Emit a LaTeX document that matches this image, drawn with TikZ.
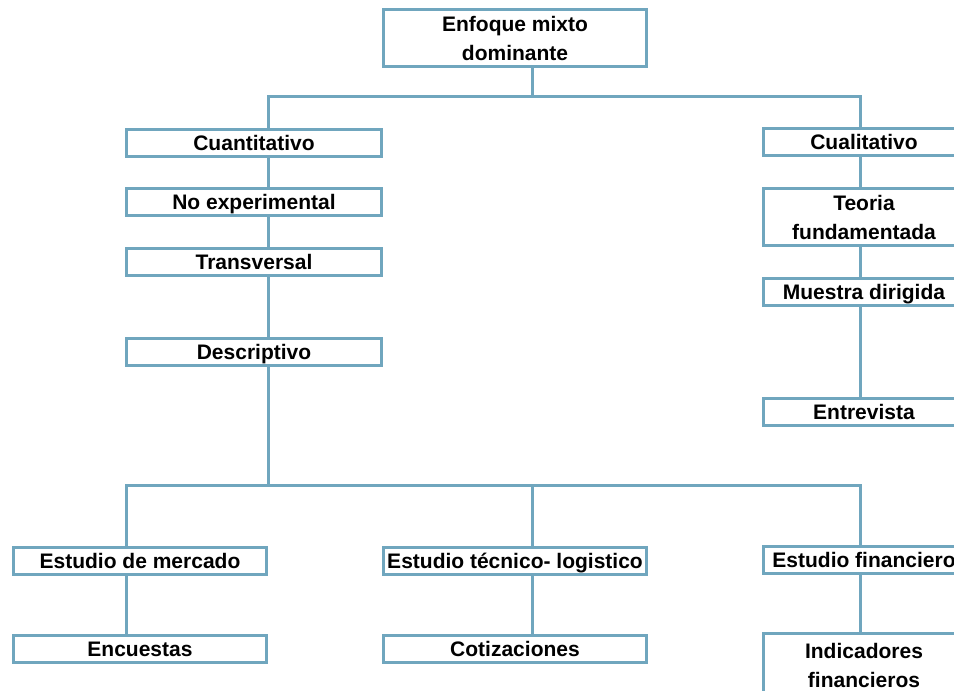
\documentclass[tikz,border=0pt]{standalone}
\usepackage{fontspec}
\setmainfont{Liberation Sans}
\usepackage{tikz}
\usetikzlibrary{positioning}
\definecolor{boxblue}{RGB}{112,166,190}
\tikzset{
  frame/.style={draw=boxblue, line width=2.25pt, fill=white, inner sep=0pt,
    minimum width=191.25pt, align=center,
    font=\fontsize{15.75}{21.75}\selectfont\bfseries},
  box/.style={frame, minimum height=20.25pt, text height=12pt, text depth=0.8pt},
  tallbox/.style={frame, minimum height=42.75pt},
  side/.style={minimum width=150.75pt},
  link/.style={draw=boxblue, line width=2.25pt}
}

\begin{document}
\begin{tikzpicture}[x=0.75pt, y=-0.75pt]
  \clip (0,0) rectangle (954,691);

  % Top
  \node[tallbox, minimum width=197.25pt] (mixto) at (515,38) {Enfoque mixto\\dominante};

  % Quantitative branch
  \node[box] (cuanti) at (254,143) {Cuantitativo};
  \node[box] (noexp) at (254,202) {No experimental};
  \node[box] (transv) at (254,262.5) {Transversal};
  \node[box] (descr) at (254,352) {Descriptivo};

  % Qualitative branch
  \node[box, side] (cuali) at (864,142) {Cualitativo};
  \node[tallbox, side] (teoria) at (864,217) {Teoria\\fundamentada};
  \node[box, side] (muestra) at (864,292.5) {Muestra dirigida};
  \node[box, side] (entrev) at (864,412.5) {Entrevista};

  % Studies
  \node[box, minimum width=189.75pt] (mercado) at (140,561) {Estudio de mercado};
  \node[box, minimum width=197.25pt] (tecnico) at (515,561) {Estudio técnico- logistico};
  \node[box, side] (financ) at (864,560) {Estudio financiero};
  \node[box, minimum width=189.75pt] (encuestas) at (140,649) {Encuestas};
  \node[box, minimum width=197.25pt] (cotiz) at (515,649) {Cotizaciones};
  \node[tallbox, side, minimum height=48pt] (indic) at (864,665) {Indicadores\\financieros};

  % Fork points
  \coordinate (topfork) at (532,97);
  \coordinate (leftfork) at (268,97);
  \coordinate (rightfork) at (860,97);
  \coordinate (lowfork) at (268,486);
  \coordinate (lowleft) at (126,486);
  \coordinate (lowmid) at (532,486);
  \coordinate (lowright) at (860,486);

  % Connectors
  \draw[link] (mixto.south -| topfork) -- (topfork);
  \draw[link] (leftfork |- cuanti.north) -- (leftfork) -- (rightfork)
    -- (rightfork |- cuali.north);
  \foreach \a/\b in {cuanti/noexp, noexp/transv, transv/descr}
    \draw[link] (leftfork |- \a.south) -- (leftfork |- \b.north);
  \foreach \a/\b in {cuali/teoria, teoria/muestra, muestra/entrev}
    \draw[link] (rightfork |- \a.south) -- (rightfork |- \b.north);
  \draw[link] (leftfork |- descr.south) -- (lowfork);
  \draw[link] (lowleft |- mercado.north) -- (lowleft) -- (lowright)
    -- (lowright |- financ.north);
  \draw[link] (lowmid) -- (lowmid |- tecnico.north);
  \draw[link] (lowleft |- mercado.south) -- (lowleft |- encuestas.north);
  \draw[link] (lowmid |- tecnico.south) -- (lowmid |- cotiz.north);
  \draw[link] (lowright |- financ.south) -- (lowright |- indic.north);
\end{tikzpicture}
\end{document}
